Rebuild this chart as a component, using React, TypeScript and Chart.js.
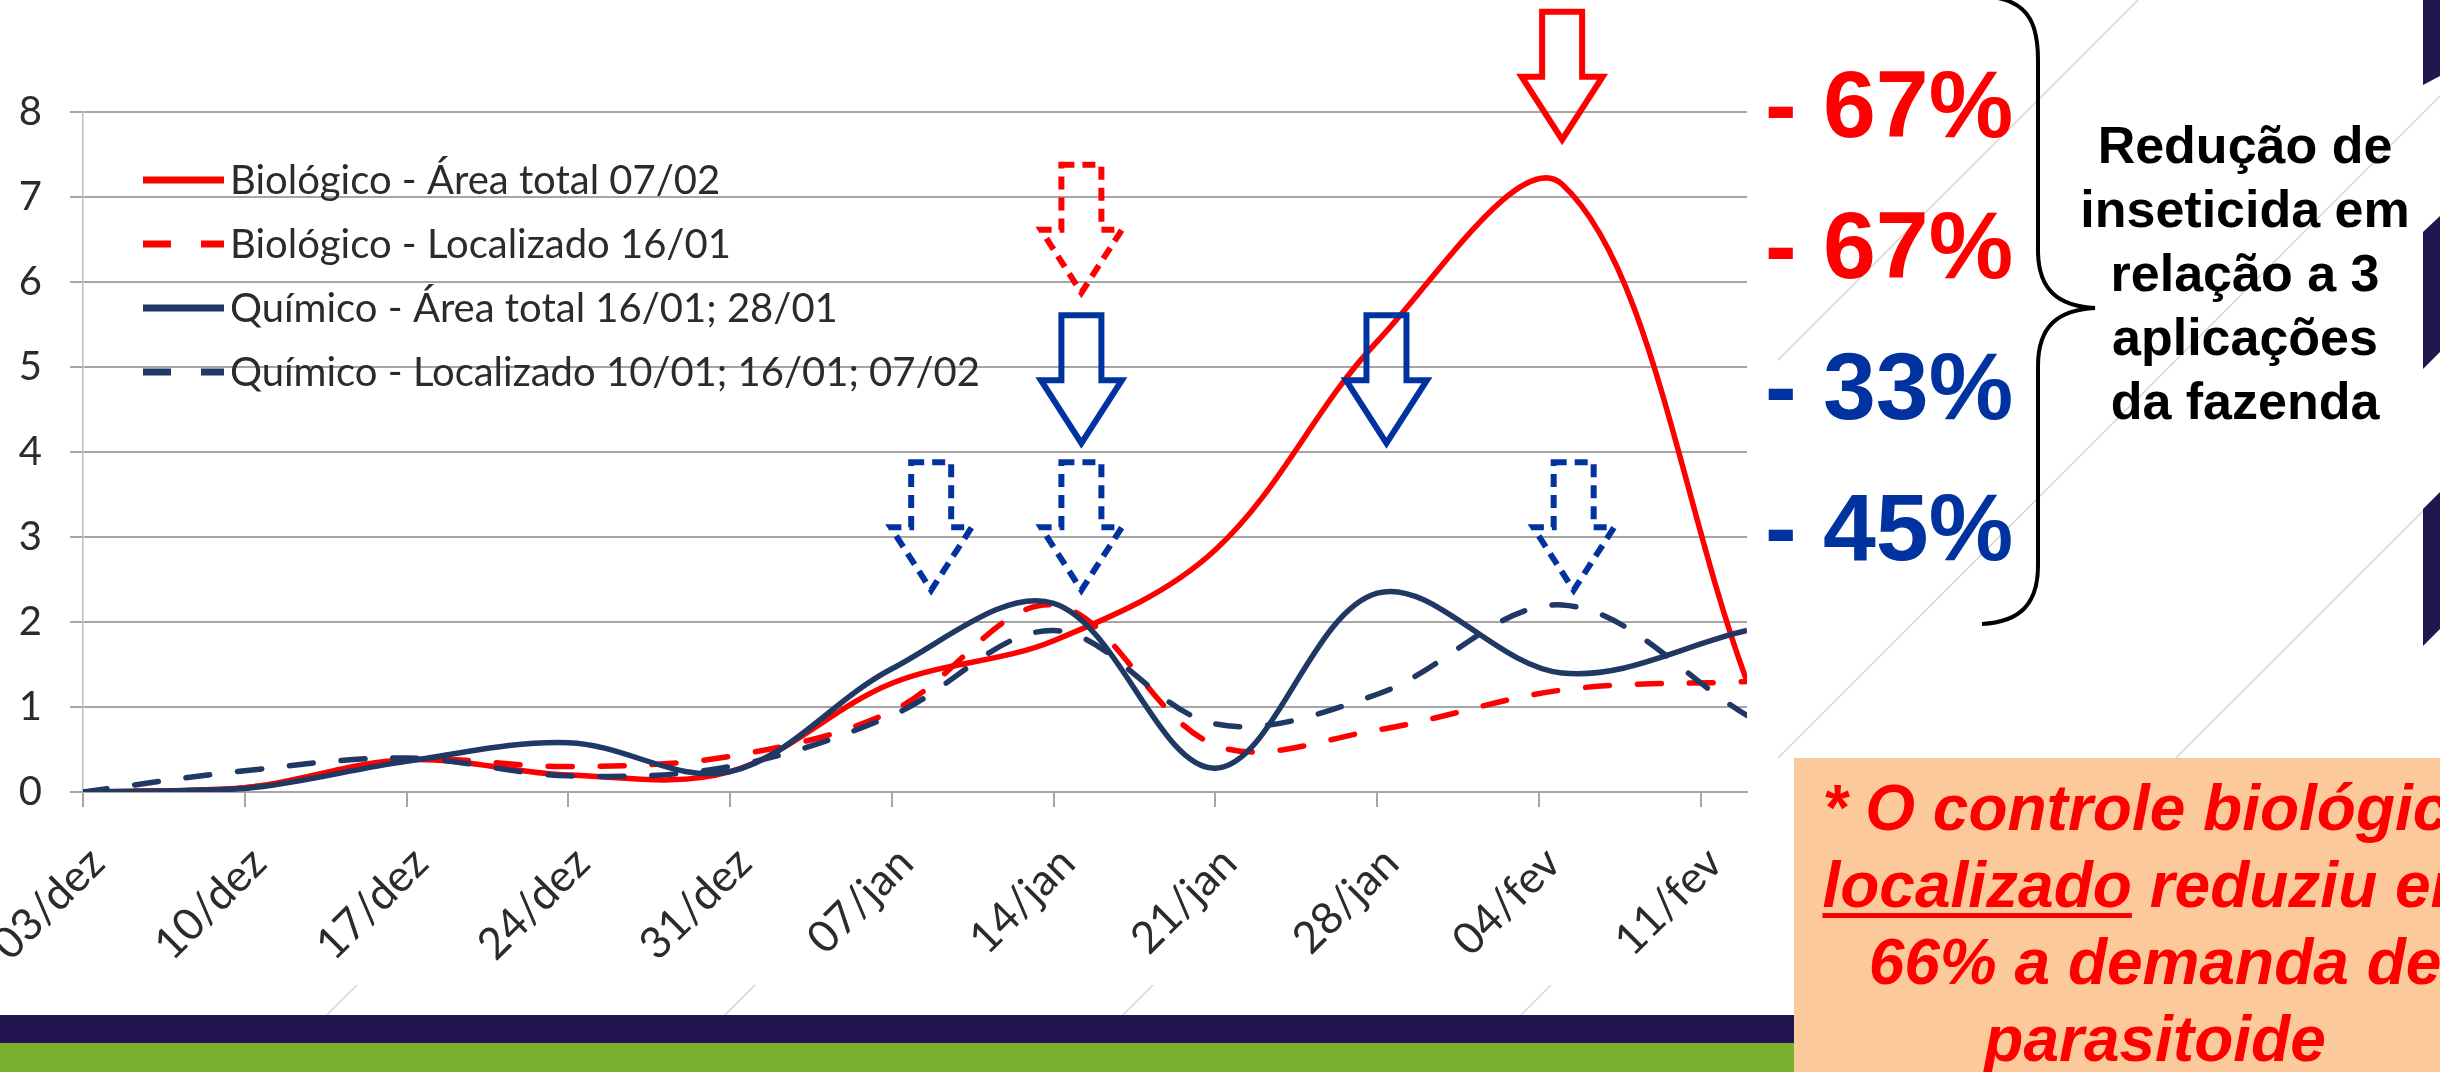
import React, { useEffect, useRef } from 'react';
import { Chart, registerables } from 'chart.js';
Chart.register(...registerables);

// ---- data (days counted from 03/dez) ----
const sampleDays = [0, 7, 14, 21, 28, 35, 42, 49, 56, 64, 72];
const tickLabels = ['03/dez', '10/dez', '17/dez', '24/dez', '31/dez', '07/jan', '14/jan', '21/jan', '28/jan', '04/fev', '11/fev'];
const bioTotal = [0, 0.05, 0.38, 0.2, 0.24, 1.28, 1.78, 2.85, 5.3, 7.15, 1.3];
const bioLocal = [0, 0.05, 0.38, 0.3, 0.42, 0.95, 2.2, 0.55, 0.73, 1.2, 1.3];
const quimTotal = [0, 0.04, 0.36, 0.58, 0.24, 1.45, 2.22, 0.28, 2.34, 1.4, 1.9];
const quimLocal = [0, 0.25, 0.4, 0.19, 0.3, 0.9, 1.9, 0.8, 1.15, 2.2, 0.9];
const seriesLabels = [
  'Biológico - Área total 07/02',
  'Biológico - Localizado 16/01',
  'Químico - Área total 16/01; 28/01',
  'Químico - Localizado 10/01; 16/01; 07/02',
];

// application arrows (day position, top value)
const arrowDays = [36.7, 43.2, 43.2, 43.2, 56.4, 64.0, 64.5];
const arrowTops = [3.88, 3.88, 5.61, 7.38, 5.61, 9.18, 3.88];
const arrowColors = ['#0033A0', '#0033A0', '#0033A0', '#FF0000', '#0033A0', '#FF0000', '#0033A0'];
const arrowDashed = [true, true, false, true, false, false, true];

const reductionLabels = ['- 67%', '- 67%', '- 33%', '- 45%'];
const reductionColors = ['#FF0000', '#FF0000', '#0033A0', '#0033A0'];
const braceText = ['Redução de', 'inseticida em', 'relação a 3', 'aplicações', 'da fazenda'];

const RED = '#FF0000';
const NAVY = '#1F3864';
const CANVAS_W = 1778;
const CANVAS_H = 985;

function drawArrow(ctx: CanvasRenderingContext2D, cx: number, top: number, color: string, dashed: boolean) {
  const W = 81, S = 40, H = 128, HL = 63;
  ctx.save();
  ctx.strokeStyle = color;
  ctx.lineWidth = 6;
  ctx.lineJoin = 'miter';
  ctx.setLineDash(dashed ? [13, 8] : []);
  ctx.beginPath();
  ctx.moveTo(cx - S / 2, top);
  ctx.lineTo(cx + S / 2, top);
  ctx.lineTo(cx + S / 2, top + H - HL);
  ctx.lineTo(cx + W / 2, top + H - HL);
  ctx.lineTo(cx, top + H);
  ctx.lineTo(cx - W / 2, top + H - HL);
  ctx.lineTo(cx - S / 2, top + H - HL);
  ctx.closePath();
  ctx.stroke();
  ctx.restore();
}

const overlayPlugin = {
  id: 'overlay',
  afterDatasetsDraw(chart: any) {
    const { ctx } = chart;
    const xs = chart.scales.x;
    const ys = chart.scales.y;
    arrowDays.forEach((d, i) => {
      drawArrow(ctx, xs.getPixelForValue(d), ys.getPixelForValue(arrowTops[i]), arrowColors[i], arrowDashed[i]);
    });
    ctx.save();
    ctx.font = '40px Lato';
    ctx.textBaseline = 'middle';
    chart.data.datasets.forEach((ds: any, i: number) => {
      const rowY = 180 + i * 64;
      ctx.strokeStyle = ds.borderColor;
      ctx.lineWidth = 7;
      ctx.lineCap = 'butt';
      ctx.setLineDash(ds.borderDash ? [28, 30] : []);
      ctx.beginPath();
      ctx.moveTo(143, rowY);
      ctx.lineTo(224, rowY);
      ctx.stroke();
      ctx.setLineDash([]);
      ctx.fillStyle = '#2b2b2b';
      ctx.fillText(ds.label, 230, rowY + 1);
    });
    ctx.restore();
  },
};

function ChartCanvas() {
  const ref = useRef<HTMLCanvasElement | null>(null);
  useEffect(() => {
    if (!ref.current) return;
    const mk = (vals: number[]) => sampleDays.map((d, i) => ({ x: d, y: vals[i] }));
    const chart = new Chart(ref.current, {
      type: 'line',
      data: {
        datasets: [
          { label: seriesLabels[0], data: mk(bioTotal), borderColor: RED, order: 4 },
          { label: seriesLabels[1], data: mk(bioLocal), borderColor: RED, borderDash: [24, 28], borderCapStyle: 'round', order: 3 },
          { label: seriesLabels[2], data: mk(quimTotal), borderColor: NAVY, order: 2 },
          { label: seriesLabels[3], data: mk(quimLocal), borderColor: NAVY, borderDash: [24, 28], borderCapStyle: 'round', order: 1 },
        ] as any,
      },
      options: {
        animation: false,
        responsive: false,
        devicePixelRatio: 1,
        layout: { padding: { left: 0, top: 112, right: CANVAS_W - 1747, bottom: 0 } },
        plugins: { legend: { display: false }, tooltip: { enabled: false } },
        elements: {
          point: { radius: 0, hoverRadius: 0 },
          line: { tension: 0.35, borderWidth: 5.5, fill: false },
        },
        scales: {
          x: {
            type: 'linear',
            min: 0,
            max: 72,
            ticks: {
              stepSize: 7,
              includeBounds: false,
              autoSkip: false,
              minRotation: 45,
              maxRotation: 45,
              padding: 30,
              labelOffset: 14,
              color: '#2b2b2b',
              font: { family: 'Lato', size: 44 },
              callback: (v: any) => tickLabels[Math.round(Number(v) / 7)] ?? '',
            },
            grid: { drawOnChartArea: false, drawTicks: true, tickLength: 15, color: '#A6A6A6', lineWidth: 2 },
            border: { color: '#A6A6A6', width: 2 },
            afterFit: (s: any) => {
              s.height = CANVAS_H - 792;
              s.paddingLeft = 0;
              s.paddingRight = 0;
            },
          },
          y: {
            min: 0,
            max: 8,
            ticks: { stepSize: 1, padding: 28, color: '#2b2b2b', font: { family: 'Lato', size: 40 } },
            grid: { color: '#A6A6A6', lineWidth: 2, tickLength: 13 },
            border: { color: '#BDBDBD', width: 1.5 },
            afterFit: (s: any) => {
              s.width = 83;
              s.paddingTop = 0;
              s.paddingBottom = 0;
            },
          },
        },
      } as any,
      plugins: [overlayPlugin],
    });
    return () => chart.destroy();
  }, []);
  return (
    <canvas
      ref={ref}
      width={CANVAS_W}
      height={CANVAS_H}
      style={{ position: 'absolute', left: 0, top: 0, width: CANVAS_W, height: CANVAS_H, background: '#fff' }}
    />
  );
}

const lineOffsets = [148, 546, 944, 1342, 1740, 2138, 2536, 2934, 3332];

export default function App() {
  const sans = '"Liberation Sans", Arial, sans-serif';
  return (
    <div style={{ position: 'absolute', left: 0, top: 0, width: 2440, height: 1072, overflow: 'hidden', background: '#fff' }}>
      <svg width={2440} height={1072} style={{ position: 'absolute', left: 0, top: 0 }}>
        {lineOffsets.map((c) => (
          <line key={c} x1={c} y1={0} x2={c - 1072} y2={1072} stroke="#D4D4D4" strokeWidth={1.5} />
        ))}
        <polygon points="2423,0 2440,0 2440,76 2423,85" fill="#231650" />
        <polygon points="2423,232 2440,216 2440,352 2423,369" fill="#231650" />
        <polygon points="2423,509 2440,492 2440,629 2423,646" fill="#231650" />
      </svg>
      <ChartCanvas />
      <div style={{ position: 'absolute', left: 0, top: 1015, width: 2440, height: 28, background: '#231650' }} />
      <div style={{ position: 'absolute', left: 0, top: 1043, width: 2440, height: 29, background: '#78AF2C' }} />
      {reductionLabels.map((t, i) => (
        <div
          key={i}
          style={{
            position: 'absolute', left: 1765, top: 44 + i * 141, height: 120, lineHeight: '120px',
            fontFamily: sans, fontWeight: 'bold', fontSize: 95, color: reductionColors[i], whiteSpace: 'pre',
          }}
        >
          {t}
        </div>
      ))}
      <svg width={2440} height={1072} style={{ position: 'absolute', left: 0, top: 0 }}>
        <path
          d="M 1998 -2 C 2028 4, 2038 24, 2038 60 L 2038 250 C 2038 290, 2058 306, 2095 308 C 2058 310, 2038 326, 2038 366 L 2038 566 C 2038 604, 2020 622, 1982 624"
          fill="none" stroke="#000" strokeWidth={4}
        />
      </svg>
      <div
        style={{
          position: 'absolute', left: 2045, top: 113, width: 400, textAlign: 'center',
          fontFamily: sans, fontWeight: 'bold', fontSize: 52, lineHeight: '64px', color: '#000',
        }}
      >
        {braceText.map((t, i) => (
          <div key={i}>{t}</div>
        ))}
      </div>
      <div
        style={{
          position: 'absolute', left: 1794, top: 758, width: 722, height: 330, background: '#FCC99A',
          boxSizing: 'border-box', paddingTop: 12, textAlign: 'center', fontFamily: sans, fontWeight: 'bold',
          fontStyle: 'italic', fontSize: 64, lineHeight: '77px', color: '#FF0000', whiteSpace: 'nowrap',
        }}
      >
        <div>* O controle biológico</div>
        <div>
          <span style={{ textDecoration: 'underline', textDecorationThickness: '5px', textUnderlineOffset: '6px' }}>localizado</span> reduziu em
        </div>
        <div>66% a demanda de</div>
        <div>parasitoide</div>
      </div>
    </div>
  );
}
